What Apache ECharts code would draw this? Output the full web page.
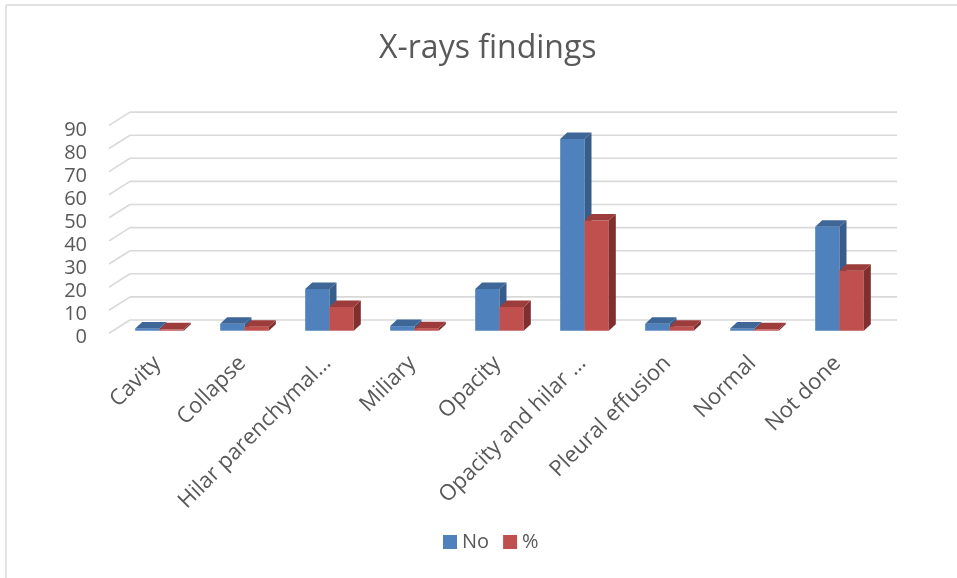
<!DOCTYPE html>
<html>
<head>
<meta charset="utf-8">
<script src="https://cdn.jsdelivr.net/npm/echarts@6/dist/echarts.min.js"></script>
<style>
html,body{margin:0;padding:0;background:#fff;}
#chart{width:957px;height:578px;}
</style>
</head>
<body>
<div id="chart"></div>
<script>
const categories = ['Cavity', 'Collapse', 'Hilar parenchymal…', 'Miliary', 'Opacity', 'Opacity and hilar …', 'Pleural effusion', 'Normal', 'Not done'];
const noValues = [1, 3, 18, 2, 18, 83, 3, 1, 45];
const pctValues = [0.6, 1.7, 10.3, 1.1, 10.3, 47.7, 1.7, 0.6, 25.9];
const yTicks = [0, 10, 20, 30, 40, 50, 60, 70, 80, 90];
const seriesNames = ['No', '%'];

const FONT = '"Open Sans", "Noto Sans", sans-serif';
const TEXT = '#595959';
const GRIDC = '#d9d9d9';
const BAR_FRAC = 0.286;
const DX = 7, DY = -6.5;
const WALL_DY = -10.7, FRONT_DY = 2.6;
const BACK_DX_L = 13, BACK_DX_R = 15, FRONT_DX = -8;

const faces = [
  { front: '#4F81BD', side: '#385D8A', top: '#3E6697' },
  { front: '#C0504D', side: '#7F302E', top: '#9C3D3B' }
];

function barRenderer(sIdx) {
  const f = faces[sIdx];
  return function (params, api) {
    const idx = api.value(0), v = api.value(1);
    const base = api.coord([idx, 0]);
    const top = api.coord([idx, v]);
    const band = api.size([1, 0])[0];
    const w = band * BAR_FRAC;
    const x0 = base[0] + (sIdx - 1) * w;
    const x1 = x0 + w;
    const yb = base[1], yt = top[1];
    return {
      type: 'group',
      children: [
        { type: 'rect', shape: { x: x0, y: yt, width: w, height: yb - yt }, style: { fill: f.front } },
        { type: 'polygon', shape: { points: [[x1, yt], [x1 + DX, yt + DY], [x1 + DX, yb + DY], [x1, yb]] }, style: { fill: f.side } },
        { type: 'polygon', shape: { points: [[x0, yt], [x1, yt], [x1 + DX, yt + DY], [x0 + DX, yt + DY]] }, style: { fill: f.top } }
      ]
    };
  };
}

function gridRenderer(params, api) {
  const cs = params.coordSys;
  const y = api.coord([0, api.value(1)])[1];
  const xl = cs.x, xr = cs.x + cs.width;
  const yBack = y + WALL_DY, yFront = y + FRONT_DY;
  const st = { stroke: GRIDC, lineWidth: 1.6 };
  return {
    type: 'group',
    children: [
      { type: 'line', shape: { x1: xl + BACK_DX_L, y1: yBack, x2: xr + BACK_DX_R, y2: yBack }, style: st },
      { type: 'line', shape: { x1: xl + FRONT_DX, y1: yFront, x2: xl + BACK_DX_L, y2: yBack }, style: st }
    ]
  };
}

const chart = echarts.init(document.getElementById('chart'));
chart.setOption({
  animation: false,
  color: [faces[0].front, faces[1].front],
  title: {
    text: 'X-rays findings',
    left: 374,
    top: 28,
    textStyle: { fontFamily: FONT, fontSize: 32, fontWeight: 'normal', color: TEXT }
  },
  legend: {
    data: seriesNames,
    top: 527,
    left: 438,
    itemWidth: 14,
    itemHeight: 14,
    itemGap: 14,
    icon: 'rect',
    textStyle: { fontFamily: FONT, fontSize: 20, color: TEXT }
  },
  graphic: [
    { type: 'line', shape: { x1: 6, y1: 5, x2: 6, y2: 578 }, style: { stroke: GRIDC, lineWidth: 1.5 } },
    { type: 'line', shape: { x1: 6, y1: 5, x2: 957, y2: 5 }, style: { stroke: GRIDC, lineWidth: 1.5 } }
  ],
  grid: { left: 117, right: 75, top: 122.8, bottom: 247.3 },
  xAxis: {
    type: 'category',
    data: categories,
    axisLine: { show: false },
    axisTick: { show: false },
    axisLabel: { interval: 0, rotate: 45, margin: 27, fontFamily: FONT, fontSize: 22, color: TEXT, padding: [0, 3, 0, 0] }
  },
  yAxis: {
    type: 'value',
    min: 0,
    max: 90,
    interval: 10,
    splitLine: { show: false },
    axisLine: { show: false },
    axisTick: { show: false },
    axisLabel: { margin: 30, fontFamily: FONT, fontSize: 20, color: TEXT, verticalAlign: 'top', lineHeight: 14 }
  },
  series: [
    {
      type: 'custom', name: 'wall', silent: true, z: 1,
      renderItem: gridRenderer,
      encode: { x: 0, y: 1 },
      data: yTicks.map(v => [0, v])
    },
    {
      type: 'custom', name: seriesNames[0], z: 3,
      itemStyle: { color: faces[0].front },
      renderItem: barRenderer(0),
      encode: { x: 0, y: 1 },
      data: noValues.map((v, i) => [i, v])
    },
    {
      type: 'custom', name: seriesNames[1], z: 4,
      itemStyle: { color: faces[1].front },
      renderItem: barRenderer(1),
      encode: { x: 0, y: 1 },
      data: pctValues.map((v, i) => [i, v])
    }
  ]
});
</script>
</body>
</html>
